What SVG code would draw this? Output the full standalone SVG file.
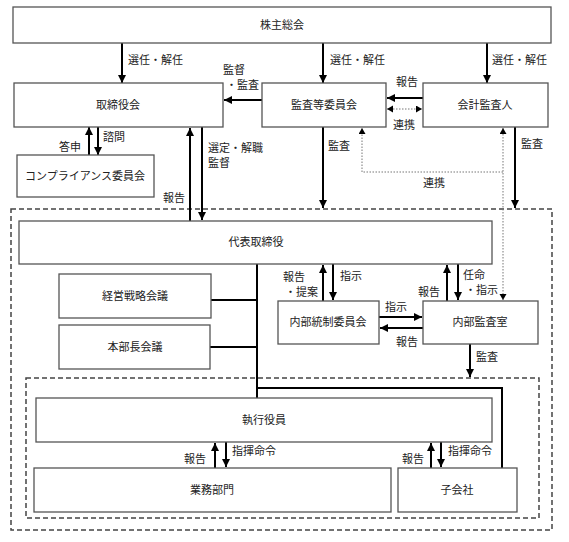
<svg xmlns="http://www.w3.org/2000/svg" width="569" height="542" viewBox="0 0 569 542">
<defs>
<marker id="ah" markerUnits="userSpaceOnUse" markerWidth="9" markerHeight="9" refX="8" refY="4" orient="auto">
<path d="M0,0 L8,4 L0,8 z" fill="#000"/>
</marker>
<marker id="ahs" markerUnits="userSpaceOnUse" markerWidth="8" markerHeight="8" refX="6" refY="3.5" orient="auto-start-reverse">
<path d="M0,0 L6,3.5 L0,7 z" fill="#000"/>
</marker>
<style>
.box{fill:#fff;stroke:#555;stroke-width:1.3}
.t{font-family:"Noto Sans CJK JP","Noto Sans CJK SC",sans-serif;font-size:11px;fill:#222}
.c{text-anchor:middle}
.a{stroke:#000;stroke-width:2;fill:none;marker-end:url(#ah)}
.ln{stroke:#000;stroke-width:2;fill:none}
.dot{stroke:#777;stroke-width:1;stroke-dasharray:1.5,1.5;fill:none}
.dash{fill:none;stroke:#444;stroke-width:1.5;stroke-dasharray:5,3}
</style>
</defs>
<rect width="569" height="542" fill="#fff"/>
<rect class="dash" x="11" y="209" width="541" height="321"/>
<rect class="dash" x="26" y="378" width="513" height="140"/>

<g id="connectors">
<line class="a" x1="122" y1="43" x2="122" y2="83"/>
<line class="a" x1="323" y1="43" x2="323" y2="83"/>
<line class="a" x1="487" y1="43" x2="487" y2="83"/>
<line class="a" x1="262" y1="100" x2="224" y2="100"/>
<line class="a" x1="423" y1="98" x2="387" y2="98"/>
<line class="dot" x1="387" y1="109" x2="422" y2="109" marker-start="url(#ahs)" marker-end="url(#ahs)"/>
<line class="a" x1="98" y1="127" x2="98" y2="155"/>
<line class="a" x1="89" y1="155" x2="89" y2="127"/>
<line class="a" x1="190" y1="221" x2="190" y2="128"/>
<line class="a" x1="202" y1="127" x2="202" y2="220"/>
<line class="a" x1="323" y1="127" x2="323" y2="208"/>
<line class="a" x1="515" y1="127" x2="515" y2="208"/>
<line class="dot" x1="503" y1="128" x2="503" y2="300" marker-start="url(#ahs)" marker-end="url(#ahs)"/>
<path class="dot" d="M503,172 H362 V128" marker-end="url(#ahs)"/>
<line class="ln" x1="257" y1="264" x2="257" y2="398"/>
<line class="ln" x1="211" y1="300" x2="257" y2="300"/>
<line class="ln" x1="210" y1="347" x2="257" y2="347"/>
<path class="ln" d="M257,388 H502 V468"/>
<line class="a" x1="323" y1="301" x2="323" y2="265"/>
<line class="a" x1="333" y1="264" x2="333" y2="300"/>
<line class="a" x1="447" y1="301" x2="447" y2="265"/>
<line class="a" x1="458" y1="264" x2="458" y2="300"/>
<line class="a" x1="379" y1="317" x2="422" y2="317"/>
<line class="a" x1="423" y1="328" x2="380" y2="328"/>
<line class="a" x1="470" y1="344" x2="470" y2="377"/>
<line class="a" x1="215" y1="468" x2="215" y2="443"/>
<line class="a" x1="226" y1="442" x2="226" y2="467"/>
<line class="a" x1="431" y1="468" x2="431" y2="443"/>
<line class="a" x1="441" y1="442" x2="441" y2="467"/>
</g>

<g id="labels">
<text class="t" x="128" y="64">選任・解任</text>
<text class="t" x="330" y="64">選任・解任</text>
<text class="t" x="492" y="64">選任・解任</text>
<text class="t" x="223" y="74">監督</text>
<text class="t" x="226" y="89">・監査</text>
<text class="t" x="396" y="86">報告</text>
<text class="t" x="393" y="129">連携</text>
<text class="t" x="328" y="150">監査</text>
<text class="t" x="521" y="148">監査</text>
<text class="t" x="423" y="187">連携</text>
<text class="t" x="59" y="151">答申</text>
<text class="t" x="103" y="141">諮問</text>
<text class="t" x="208" y="152">選定・解職</text>
<text class="t" x="208" y="167">監督</text>
<text class="t" x="163" y="202">報告</text>
<text class="t" x="283" y="281">報告</text>
<text class="t" x="285" y="296">・提案</text>
<text class="t" x="340" y="280">指示</text>
<text class="t" x="418" y="296">報告</text>
<text class="t" x="463" y="279">任命</text>
<text class="t" x="465" y="294">・指示</text>
<text class="t" x="385" y="311">指示</text>
<text class="t" x="396" y="346">報告</text>
<text class="t" x="476" y="361">監査</text>
<text class="t" x="184" y="463">報告</text>
<text class="t" x="232" y="455">指揮命令</text>
<text class="t" x="402" y="463">報告</text>
<text class="t" x="448" y="455">指揮命令</text>
</g>

<g id="n-shareholders"><rect class="box" x="13" y="7" width="538" height="36"/><text class="t c" x="282" y="29">株主総会</text></g>
<g id="n-board"><rect class="box" x="14" y="83" width="209" height="44"/><text class="t c" x="118" y="109">取締役会</text></g>
<g id="n-auditcommittee"><rect class="box" x="262" y="83" width="124" height="44"/><text class="t c" x="324" y="109">監査等委員会</text></g>
<g id="n-accountingauditor"><rect class="box" x="423" y="83" width="125" height="44"/><text class="t c" x="485" y="109">会計監査人</text></g>
<g id="n-compliance"><rect class="box" x="17" y="155" width="137" height="42"/><text class="t c" x="85" y="180">コンプライアンス委員会</text></g>
<g id="n-president"><rect class="box" x="19" y="221" width="473" height="43"/><text class="t c" x="256" y="246">代表取締役</text></g>
<g id="n-strategy"><rect class="box" x="59" y="274" width="152" height="44"/><text class="t c" x="135" y="300">経営戦略会議</text></g>
<g id="n-division"><rect class="box" x="59" y="325" width="151" height="44"/><text class="t c" x="135" y="351">本部長会議</text></g>
<g id="n-internalcontrol"><rect class="box" x="278" y="301" width="101" height="43"/><text class="t c" x="328" y="326">内部統制委員会</text></g>
<g id="n-internalaudit"><rect class="box" x="423" y="301" width="115" height="43"/><text class="t c" x="480" y="326">内部監査室</text></g>
<g id="n-officers"><rect class="box" x="36" y="398" width="456" height="44"/><text class="t c" x="264" y="424">執行役員</text></g>
<g id="n-business"><rect class="box" x="34" y="468" width="357" height="44"/><text class="t c" x="212" y="494">業務部門</text></g>
<g id="n-subsidiary"><rect class="box" x="398" y="468" width="119" height="44"/><text class="t c" x="457" y="494">子会社</text></g>
</svg>
